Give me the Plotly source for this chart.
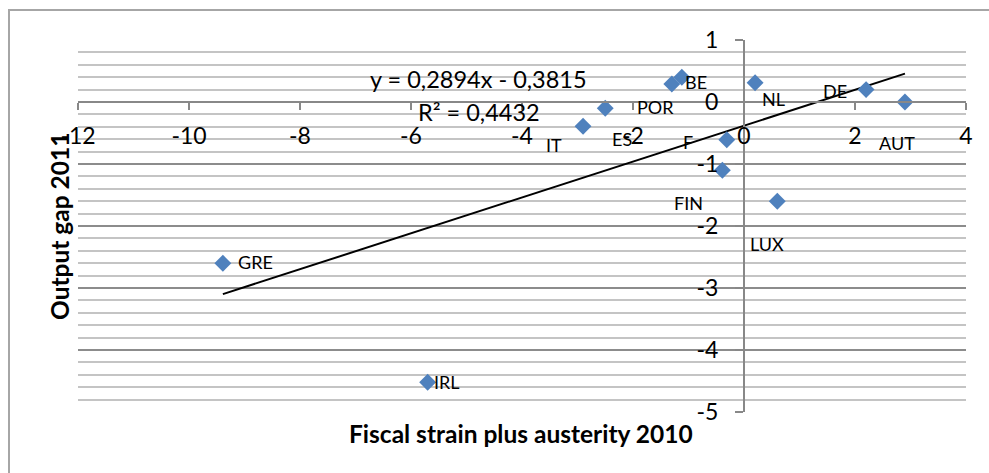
import plotly.graph_objects as go

# ---- data ----
countries = ["GRE", "IRL", "IT", "ES", "POR", "BE", "F", "FIN", "LUX", "NL", "DE", "AUT"]
fiscal_strain = [-9.39, -5.70, -2.90, -2.50, -1.30, -1.12, -0.31, -0.39, 0.60, 0.20, 2.20, 2.90]
output_gap = [-2.60, -4.52, -0.39, -0.10, 0.29, 0.40, -0.61, -1.10, -1.60, 0.31, 0.20, 0.00]
trend_slope = 0.2894
trend_intercept = -0.3815
r_squared = 0.4432
x_ticks = [-12, -10, -8, -6, -4, -2, 0, 2, 4]
y_ticks = [-5, -4, -3, -2, -1, 0, 1]

# ---- styling: label pixel offsets from their marker ----
label_offsets = {
    "GRE": (33, 1), "IRL": (19, 0), "IT": (-29, -19), "ES": (17, -31),
    "POR": (-16, -23), "BE": (14, -5), "F": (-39, -2), "FIN": (-34, -33),
    "LUX": (-10, -43), "NL": (18, -16), "DE": (-31, -1), "AUT": (-8, -41),
}

FONT = "Lato"
fig = go.Figure()

x0, x1 = min(fiscal_strain), max(fiscal_strain)
fig.add_trace(go.Scatter(
    x=[x0, x1],
    y=[trend_slope * x0 + trend_intercept, trend_slope * x1 + trend_intercept],
    mode="lines", line=dict(color="black", width=2), hoverinfo="skip", showlegend=False))

fig.add_trace(go.Scatter(
    x=fiscal_strain, y=output_gap, mode="markers", text=countries,
    marker=dict(symbol="diamond", size=13, color="#4f81bd"), showlegend=False))

annotations = []
for c, xv, yv in zip(countries, fiscal_strain, output_gap):
    dx, dy = label_offsets[c]
    annotations.append(dict(x=xv, y=yv, xref="x", yref="y", text=c, showarrow=False,
                            xshift=dx, yshift=dy, font=dict(family=FONT, size=18, color="black")))

def fmt(v):
    return f"{abs(v):.4f}".replace(".", ",")

eq = f"y = {fmt(trend_slope)}x {'-' if trend_intercept < 0 else '+'} {fmt(trend_intercept)}"
annotations.append(dict(x=-4.79, y=0.376, xref="x", yref="y", text=eq, showarrow=False,
                        font=dict(family=FONT, size=23.5, color="black")))
annotations.append(dict(x=-4.77, y=-0.157, xref="x", yref="y", text=f"R² = {fmt(r_squared)}",
                        showarrow=False, font=dict(family=FONT, size=23.5, color="black")))

annotations.append(dict(x=0.499, y=-0.059, xref="paper", yref="paper",
                        text="<b>Fiscal strain plus austerity 2010</b>", showarrow=False,
                        xanchor="center", yanchor="middle",
                        font=dict(family=FONT, size=24.5, color="black")))
annotations.append(dict(x=-0.0214, y=0.5, xref="paper", yref="paper",
                        text="<b>Output gap 2011</b>", showarrow=False, textangle=-90,
                        xanchor="center", yanchor="middle",
                        font=dict(family=FONT, size=24.5, color="black")))

fig.update_layout(
    width=989, height=473,
    margin=dict(l=78, r=23, t=40, b=61, autoexpand=False),
    paper_bgcolor="white", plot_bgcolor="white",
    font=dict(family=FONT, color="black"),
    annotations=annotations,
    shapes=[dict(type="rect", xref="paper", yref="paper", x0=-0.0777, x1=1.2,
                 y0=-0.4, y1=1.0806, line=dict(color="#a6a6a6", width=2), layer="below")],
    xaxis=dict(range=[-12, 4], tickvals=x_ticks, ticktext=[str(v) for v in x_ticks],
               anchor="free", position=5 / 6,
               showgrid=False, zeroline=False, showline=True, linecolor="#888888",
               linewidth=2, ticks="outside", ticklen=7, tickwidth=2, tickcolor="#888888",
               tickfont=dict(family=FONT, size=23), ticklabelstandoff=6,
               automargin=False, fixedrange=True),
    yaxis=dict(range=[-5, 1], tickvals=y_ticks, ticktext=[str(v) for v in y_ticks],
               anchor="free", position=0.75,
               showgrid=True, gridcolor="#8c8c8c", gridwidth=2,
               minor=dict(dtick=0.2, showgrid=True, gridcolor="#c4c4c4", gridwidth=2),
               zeroline=False, showline=True, linecolor="#888888", linewidth=2,
               ticks="outside", ticklen=8, tickwidth=2, tickcolor="#888888",
               tickfont=dict(family=FONT, size=23), ticklabelstandoff=12,
               automargin=False, fixedrange=True),
)

fig.write_html(
    "out.html",
    config={"displayModeBar": False},
    post_script="document.body.style.margin='0';document.body.style.overflow='hidden';",
)
